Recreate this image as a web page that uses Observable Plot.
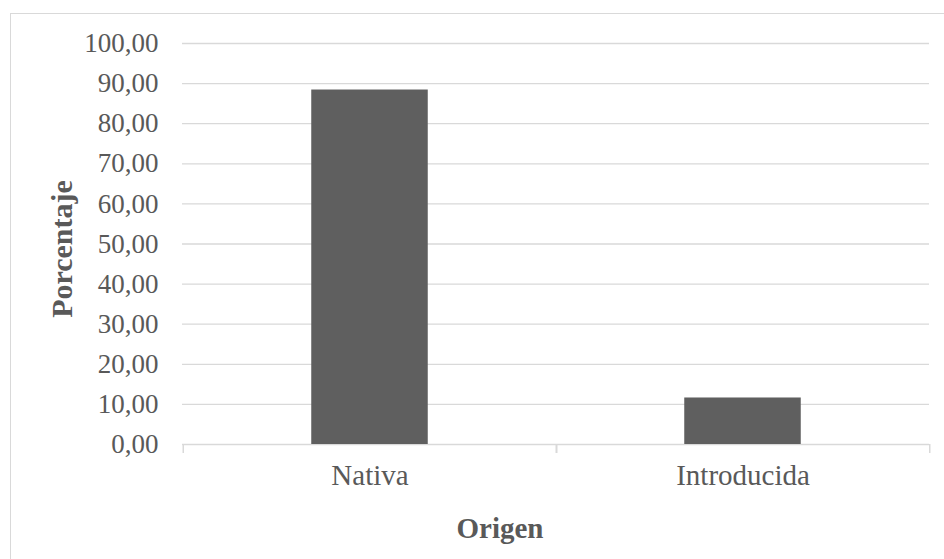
<!DOCTYPE html>
<html>
<head>
<meta charset="utf-8">
<script src="https://cdn.jsdelivr.net/npm/d3@7"></script>
<script src="https://cdn.jsdelivr.net/npm/@observablehq/plot@0.6"></script>
<style>
  html, body { margin: 0; padding: 0; background: #fff; }
  #chart { position: relative; width: 944px; height: 559px; overflow: hidden; }
  #chart .borde { position: absolute; left: 10px; top: 13px; width: 960px; height: 580px;
    border-left: 1.5px solid #d9d9d9; border-top: 1.5px solid #d9d9d9; box-sizing: border-box; }
  #chart svg { position: absolute; left: 0; top: 0; }
</style>
</head>
<body>
<div id="chart"><div class="borde"></div></div>
<script>
// Origen de las especies (porcentaje)
const categorias = ["Nativa", "Introducida"];
const porcentajes = [88.4, 11.6];
const ticksY = [0, 10, 20, 30, 40, 50, 60, 70, 80, 90, 100];
const tituloY = "Porcentaje";
const tituloX = "Origen";

const datos = categorias.map((c, i) => ({origen: c, pct: porcentajes[i]}));

const W = 944, H = 559;
const mLeft = 182, mRight = 15, mTop = 43, mBottom = 115;
const paso = (W - mLeft - mRight) / categorias.length;
const anchoBarra = 117;
const inset = (paso - anchoBarra) / 2;

const coma = d3.formatLocale({decimal: ",", thousands: ".", grouping: [3], currency: ["", ""]}).format(".2f");
const gris = "#595959";
const lineas = "#d9d9d9";

const plot = Plot.plot({
  width: W,
  height: H,
  marginLeft: mLeft,
  marginRight: mRight,
  marginTop: mTop,
  marginBottom: mBottom,
  style: {fontFamily: "'Liberation Serif', 'Times New Roman', serif", fontSize: "27px", color: gris, background: "transparent"},
  x: {domain: categorias, padding: 0},
  y: {domain: [0, 100]},
  marks: [
    Plot.gridY(ticksY, {stroke: lineas, strokeOpacity: 1, strokeWidth: 1.3}),
    Plot.barY(datos, {x: "origen", y: "pct", fill: "#5f5f5f", insetLeft: inset, insetRight: inset}),
    Plot.axisY(ticksY, {tickSize: 0, tickPadding: 24, tickFormat: coma, label: null, fill: gris, fontSize: 27}),
    // marcas de división entre categorías
    Plot.axisX({tickSize: 9, tickFormat: () => "", label: null, stroke: lineas, strokeWidth: 1.5, dx: -paso / 2}),
    Plot.axisX({tickSize: 9, tickFormat: () => "", label: null, stroke: lineas, strokeWidth: 1.5, dx: paso / 2}),
    Plot.axisX({tickSize: 0, tickPadding: 20, label: null, fill: gris, fontSize: 29}),
    Plot.text([tituloY], {frameAnchor: "left", textAnchor: "middle", lineAnchor: "middle", dx: -120, dy: 5, rotate: -90, fontWeight: "bold", fontSize: 30, fill: gris}),
    Plot.text([tituloX], {frameAnchor: "bottom", textAnchor: "middle", lineAnchor: "middle", dx: -56, dy: 84, fontWeight: "bold", fontSize: 29, fill: gris})
  ]
});

document.getElementById("chart").appendChild(plot);
</script>
</body>
</html>
